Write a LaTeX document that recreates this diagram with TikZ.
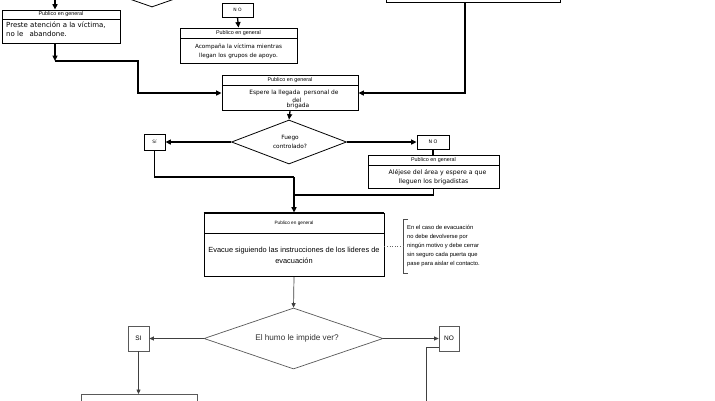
\documentclass[tikz,border=0pt]{standalone}
\usepackage{fontspec}
\setmainfont{Liberation Sans}
\newfontfamily\dejavu{DejaVu Sans}
\usetikzlibrary{shapes.geometric,arrows.meta}
\begin{document}
\begin{tikzpicture}[x=1pt,y=-1pt,
  thk/.style={line width=1.3pt},
  tipa/.style={-{Triangle[length=5.5pt,width=5pt]}},
  tipb/.style={-{Triangle[length=4.5pt,width=4pt]}},
  box/.style={draw,line width=0.8pt,inner sep=0pt,rectangle},
  gbox/.style={draw=black!65,line width=0.7pt,inner sep=0pt,rectangle},
  gline/.style={draw=black!75,line width=0.7pt},
  hfont/.style={font=\fontsize{5.4}{6}\selectfont},
  dfont/.style={font=\dejavu\fontsize{5.9}{8.5}\selectfont},
  lfont/.style={font=\fontsize{7.4}{11}\selectfont},
]
\useasboundingbox[fill=white] (0,0) rectangle (715,400);

% ---------- top row ----------
\node[diamond,draw,line width=0.8pt,inner sep=0pt,minimum width=120pt,minimum height=42pt] (dA) at (152,-14) {};
\node[draw,line width=1pt,inner sep=0pt,minimum width=174pt,minimum height=22pt] (topR) at (473,-9) {};

\node[box,hfont,minimum width=118pt,minimum height=9pt] (hdrA) at (61,14.5) {Publico en general};
\node[box,anchor=north,minimum width=118pt,minimum height=24pt] (bodyA) at (hdrA.south) {};
\node[font=\dejavu\fontsize{7}{9}\selectfont,anchor=north west,align=left,inner sep=0pt] (tA) at (6,21.5) {Preste atención a la víctima,\\no le \hspace{4pt}abandone.};

\node[box,font=\dejavu\fontsize{4.5}{5}\selectfont,minimum width=31pt,minimum height=14pt] (noA) at (237.5,10) {N O};
\node[box,hfont,minimum width=117pt,minimum height=10pt] (hdrB) at (238.5,33) {Publico en general};
\node[box,font=\dejavu\fontsize{5.7}{9}\selectfont,anchor=north,minimum width=117pt,minimum height=25pt,align=center] (bodyB) at (hdrB.south) {Acompaña la víctima mientras\\ llegan los grupos de apoyo.};

\coordinate (aTop) at (55,-1);
\draw[thk,tipa] (aTop) -- (aTop |- hdrA.north);
\draw[thk,tipa] (noA.south) -- (hdrB.north);

% ---------- Espere ----------
\node[box,hfont,minimum width=136pt,minimum height=10pt] (hdrC) at (290,80) {Publico en general};
\node[box,anchor=north,minimum width=136pt,minimum height=25pt] (bodyC) at (hdrC.south) {};
\node[dfont,inner sep=0pt] (tC1) at (294,93) {Espere la llegada \ personal de};
\node[dfont,inner sep=0pt] (tC2) at (297,100.5) {del};
\node[dfont,inner sep=0pt] (tC3) at (298,105.5) {brigada};

\coordinate (cA1) at (55,61);
\coordinate (cA2) at (138,61);
\coordinate (cA3) at (138,93);
\draw[thk,tipa] (cA1 |- bodyA.south) -- (cA1);
\draw[thk,tipa] (cA1) -- (cA2) -- (cA3) -- (cA3 -| bodyC.west);
\coordinate (cR1) at (465,2);
\coordinate (cR2) at (465,93);
\draw[thk,tipa] (cR1) -- (cR2) -- (cR2 -| bodyC.east);

% ---------- Fuego controlado ----------
\node[diamond,draw,line width=0.8pt,inner sep=0pt,minimum width=115pt,minimum height=44pt] (dB) at (289,142) {};
\node[font=\dejavu\fontsize{5.8}{6}\selectfont,align=center,inner sep=0pt] (tB) at (290,142) {Fuego\\[3pt]controlado?};
\draw[thk,tipa] (bodyC.south) -- (dB.north);

\node[box,font=\dejavu\fontsize{4.5}{5}\selectfont,minimum width=21pt,minimum height=16pt] (siA) at (154.5,142) {Sí};
\node[box,font=\dejavu\fontsize{4.8}{5}\selectfont,minimum width=32pt,minimum height=14pt] (noB) at (433,142) {N O};
\draw[thk,tipa] (dB.west) -- (siA.east);
\draw[thk,tipa] (dB.east) -- (noB.west);

\node[box,hfont,minimum width=131pt,minimum height=10pt] (hdrD) at (433.5,160) {Publico en general};
\node[box,font=\dejavu\fontsize{6.2}{9}\selectfont,anchor=north,minimum width=131pt,minimum height=23pt,align=center] (bodyD) at (hdrD.south) {\hspace{8pt}Aléjese del área y espere a que\\ lleguen los brigadistas};
\draw[thk] (noB.south) -- (noB.south |- hdrD.north);

% ---------- Evacue ----------
\node[box,font=\fontsize{4.7}{6}\selectfont,minimum width=180pt,minimum height=20pt] (hdrE) at (294,223) {Publico en general};
\node[box,lfont,anchor=north,minimum width=180pt,minimum height=43pt,align=center] (bodyE) at (hdrE.south) {Evacue siguiendo las instrucciones de los lideres de\\evacuación};
\draw[line width=1.4pt] (hdrE.north west) -- (hdrE.north east);

\coordinate (cS1) at (154.5,177);
\coordinate (cS2) at (294,177);
\draw[thk] (siA.south) -- (cS1) -- (cS2);
\draw[thk,tipa] (cS2) -- (hdrE.north);
\coordinate (cN1) at (294,195);
\draw[thk] (bodyD.south) -- (bodyD.south |- cN1) -- (cN1);

% note
\node[anchor=west,align=left,inner sep=0pt,font=\fontsize{5.8}{9}\selectfont] (note) at (407,246) {En el caso de evacuación\\no debe devolverse por\\ningún motivo y debe cerrar\\sin seguro cada puerta que\\pase para aislar el contacto.};
\draw[draw=black!70,line width=0.6pt] (408,219) -- (403,219) -- (403,273) -- (408,273);
\coordinate (nB) at (403,246);
\draw[draw=black!60,line width=0.6pt,dotted] (nB -| bodyE.east) -- (nB);

% ---------- El humo ----------
\node[diamond,draw=black!65,line width=0.7pt,inner sep=0pt,minimum width=179pt,minimum height=61pt] (dC) at (293.5,338.5) {};
\node[font=\fontsize{8.2}{9}\selectfont,text=black!80,inner sep=0pt] (tCx) at (297,338.5) {El humo le impide ver?};
\draw[gline,tipb] (bodyE.south) -- (dC.north);

\node[gbox,font=\fontsize{6.5}{7}\selectfont,minimum width=21pt,minimum height=25pt] (siB) at (138.5,338.5) {SI};
\node[gbox,font=\fontsize{6.5}{7}\selectfont,minimum width=20pt,minimum height=25pt] (noC) at (449,338.5) {NO};
\draw[gline,tipb] (dC.west) -- (siB.east);
\draw[gline,tipb] (dC.east) -- (noC.west);

\node[gbox,minimum width=116pt,minimum height=32pt,anchor=north] (boxF) at (139,394) {};
\draw[gline,tipb] (siB.south) -- (siB.south |- boxF.north);

\coordinate (cN2) at (426,347);
\coordinate (cN3) at (426,402);
\draw[gline] (cN2 -| noC.west) -- (cN2) -- (cN3);
\end{tikzpicture}
\end{document}
